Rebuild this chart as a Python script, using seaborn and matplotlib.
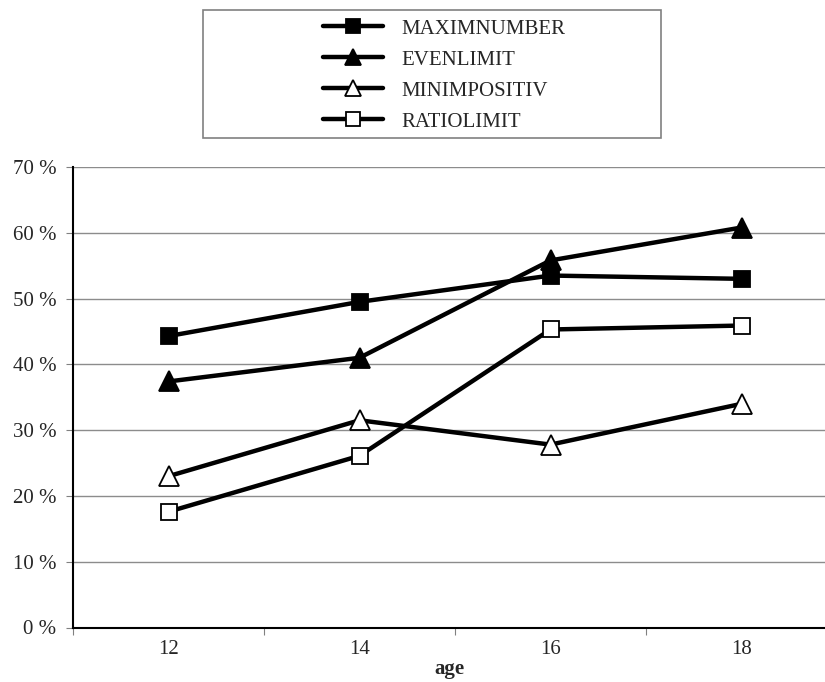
import matplotlib
matplotlib.use("Agg")
import matplotlib.pyplot as plt
import seaborn as sns
import pandas as pd
from matplotlib.patches import Rectangle
from matplotlib.lines import Line2D

ages = ["12", "14", "16", "18"]
maximnumber = [44.3, 49.5, 53.5, 53.0]
evenlimit = [37.4, 41.0, 55.8, 60.8]
minimpositiv = [23.0, 31.5, 27.8, 34.0]
ratiolimit = [17.6, 26.1, 45.3, 45.9]
series_names = ["MAXIMNUMBER", "EVENLIMIT", "MINIMPOSITIV", "RATIOLIMIT"]
yticks = [0, 10, 20, 30, 40, 50, 60, 70]

sns.set_theme(style="white")
plt.rcParams['font.family'] = ['Liberation Serif', 'DejaVu Serif']

fig = plt.figure(figsize=(8.25, 6.82), dpi=100)
ax = fig.add_axes([73/825, 1-627.5/682, 1-73/825, (627.5-167)/682])

styles = {
    "MAXIMNUMBER": dict(marker="s", mfc="black", ms=12),
    "EVENLIMIT": dict(marker="^", mfc="black", ms=15),
    "MINIMPOSITIV": dict(marker="^", mfc="white", ms=15),
    "RATIOLIMIT": dict(marker="s", mfc="white", ms=12),
}
values = [maximnumber, evenlimit, minimpositiv, ratiolimit]
handles = []
for name, vals in zip(series_names, values):
    df = pd.DataFrame({"age": ages, "value": vals})
    st = styles[name]
    sns.lineplot(data=df, x="age", y="value", ax=ax, color="black", lw=3.2,
                 marker=st["marker"], mfc=st["mfc"], mec="black", mew=1.3,
                 ms=st["ms"], sort=False, legend=False)
    handles.append(Line2D([], [], color="black", lw=3.2, marker=st["marker"],
                          mfc=st["mfc"], mec="black", mew=1.3, ms=st["ms"] * 0.8))

ax.set_ylim(0, 70)
ax.set_xlim(-0.5, (825-73)/191 - 0.5)
ax.set_yticks(yticks)
ax.set_yticklabels([f"{v} %" for v in yticks], fontsize=15)
ax.set_xticks(range(len(ages)))
ax.set_xticklabels(ages, fontsize=15)
ax.set_xticks([-0.5, 0.5, 1.5, 2.5], minor=True)
ax.tick_params(axis="x", which="major", length=0, pad=9)
ax.tick_params(axis="x", which="minor", length=5, width=0.8, color="#808080", direction="out", bottom=True)
ax.tick_params(axis="y", which="major", length=5, width=0.8, color="#808080", direction="out", left=True, pad=7)
ax.yaxis.grid(True, color="#8c8c8c", lw=1)
ax.set_axisbelow(True)
for s in ["top", "right"]:
    ax.spines[s].set_visible(False)
for s in ["left", "bottom"]:
    ax.spines[s].set_color("black")
    ax.spines[s].set_linewidth(1.5)
ax.set_xlabel("age", fontsize=15, fontweight="bold", labelpad=0)
ax.set_ylabel("")

fig.patches.append(Rectangle((203/825, 1-138/682), 458/825, 128/682,
                             transform=fig.transFigure, fill=False,
                             edgecolor="#808080", lw=1.2))
fig.legend(handles, series_names, loc="upper left",
           bbox_to_anchor=(323/825, 1-19/682), frameon=False,
           fontsize=15, handlelength=2.9, handletextpad=0.85,
           labelspacing=0.55, borderpad=0, borderaxespad=0)

fig.savefig("out.png", dpi=100)
